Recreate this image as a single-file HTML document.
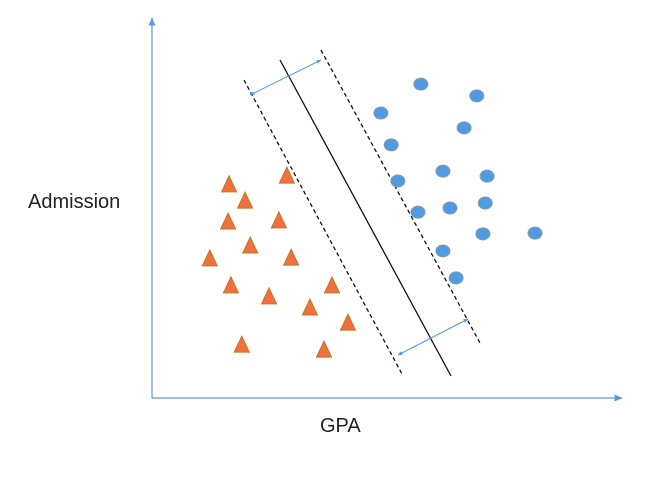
<!DOCTYPE html>
<html><head><meta charset="utf-8"><style>
html,body{margin:0;padding:0;background:#fff;}
svg{display:block;font-family:"Liberation Sans",sans-serif;}
</style></head><body>
<svg id="chart" width="646" height="496" viewBox="0 0 646 496">
<defs>
<marker id="ah" viewBox="0 0 10 10" refX="9" refY="5" markerWidth="7" markerHeight="7" orient="auto-start-reverse"><path d="M0,1 L10,5 L0,9 z" fill="#5b9bd5"/></marker>
<marker id="ah2" viewBox="0 0 10 10" refX="9" refY="5" markerWidth="5" markerHeight="5" orient="auto-start-reverse"><path d="M0,1 L10,5 L0,9 z" fill="#5b9bd5"/></marker>
</defs>
<line x1="152" y1="398" x2="152" y2="18" stroke="#5b9bd5" stroke-width="1.2" marker-end="url(#ah)"/>
<line x1="152" y1="398" x2="622" y2="398" stroke="#5b9bd5" stroke-width="1.2" marker-end="url(#ah)"/>
<text x="28" y="208" font-size="20" fill="#222">Admission</text>
<text x="320" y="432" font-size="20" fill="#222">GPA</text>
<line x1="244" y1="80" x2="402" y2="374" stroke="#111" stroke-width="1.3" stroke-dasharray="4,3"/>
<line x1="280" y1="60" x2="451" y2="376" stroke="#111" stroke-width="1.3"/>
<line x1="321" y1="50" x2="480" y2="343" stroke="#111" stroke-width="1.3" stroke-dasharray="4,3"/>
<line x1="250" y1="95" x2="321" y2="60" stroke="#5b9bd5" stroke-width="1" marker-start="url(#ah2)" marker-end="url(#ah2)"/>
<line x1="398" y1="355" x2="468" y2="319" stroke="#5b9bd5" stroke-width="1" marker-start="url(#ah2)" marker-end="url(#ah2)"/>
<g id="marks"></g>
</svg>
<script>
const triX=[16.4,19.8,28.7,16.2,27.0,20.9,12.3,29.6,16.8,24.9,38.3,33.6,41.7,19.1,36.6];
const triY=[56.1,51.8,58.4,46.3,46.6,40.0,36.6,36.8,29.5,26.6,29.5,23.7,19.7,13.9,12.6];
const cirX=[57.2,69.1,48.7,66.4,50.9,61.9,71.3,52.3,56.6,63.4,70.9,70.4,81.5,61.9,64.7];
const cirY=[82.6,79.5,75.0,71.1,66.6,59.7,58.4,57.1,48.9,50.0,51.3,43.2,43.4,38.7,31.6];
function sx(v){return 152+4.7*v;}
function sy(v){return 398-3.8*v;}
const NS="http://www.w3.org/2000/svg";
const g=document.getElementById('marks');
for(let i=0;i<triX.length;i++){
  const x=sx(triX[i]),y=sy(triY[i]);
  const p=document.createElementNS(NS,'polygon');
  p.setAttribute('points',`${x},${y-9} ${x-7.5},${y+7} ${x+7.5},${y+7}`);
  p.setAttribute('fill','#f07040');p.setAttribute('stroke','#c0781e');p.setAttribute('stroke-width','1');
  
  
  g.appendChild(p);
}
for(let i=0;i<cirX.length;i++){
  const c=document.createElementNS(NS,'ellipse');
  c.setAttribute('cx',sx(cirX[i]));c.setAttribute('cy',sy(cirY[i]));
  c.setAttribute('rx','7');c.setAttribute('ry','6');
  c.setAttribute('fill','#4f9be3');c.setAttribute('stroke','#8a9aa8');c.setAttribute('stroke-width','1');
  
  
  g.appendChild(c);
}
</script>
</body></html>
